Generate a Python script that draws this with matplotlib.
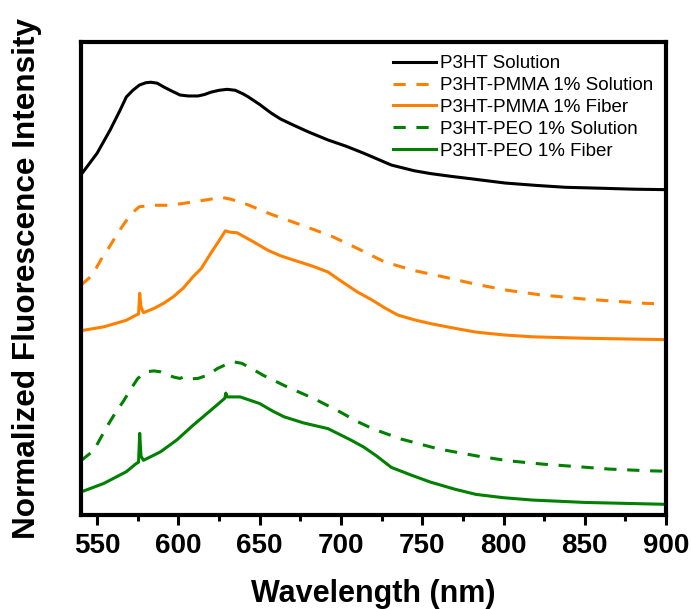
import matplotlib.pyplot as plt
from matplotlib.ticker import MultipleLocator

plt.rcParams['font.family'] = ['Liberation Sans', 'DejaVu Sans']

# P3HT Solution
wl_p3ht = [540, 550, 558, 564, 568, 572, 576, 580, 583, 587, 591, 595, 601, 606, 612, 616,
           620, 625, 630, 635, 640, 643, 650, 657, 663, 671, 680, 692, 703, 714, 731, 745,
           755, 768, 780, 801, 820, 838, 860, 880, 900]
int_p3ht = [0.719, 0.765, 0.814, 0.855, 0.884, 0.898, 0.909, 0.914, 0.915, 0.913, 0.905, 0.898,
            0.888, 0.886, 0.886, 0.889, 0.894, 0.898, 0.900, 0.898, 0.890, 0.884, 0.868, 0.850,
            0.837, 0.824, 0.810, 0.793, 0.780, 0.765, 0.740, 0.728, 0.722, 0.716, 0.711, 0.702,
            0.697, 0.693, 0.691, 0.689, 0.688]

# P3HT-PMMA 1% Solution
wl_pmma_sol = [540, 547, 554, 557, 562, 566, 571, 576, 585, 595, 609, 620, 626, 632, 642, 657,
               675, 694, 710, 727, 745, 764, 783, 803, 822, 849, 886, 900]
int_pmma_sol = [0.486, 0.507, 0.550, 0.564, 0.592, 0.613, 0.637, 0.652, 0.655, 0.655, 0.662,
                0.668, 0.672, 0.668, 0.657, 0.636, 0.614, 0.590, 0.564, 0.535, 0.517, 0.503,
                0.488, 0.475, 0.466, 0.457, 0.448, 0.446]

# P3HT-PMMA 1% Fiber
wl_pmma_fib = [540, 554, 568, 574, 575.5, 576.2, 577, 578.5, 585, 591, 597, 603, 609, 614, 620,
               625, 628.9, 632, 636, 645, 655, 663, 671, 682, 692, 700, 710, 719, 727, 735,
               745, 755, 770, 783, 800, 818, 850, 900]
int_pmma_fib = [0.390, 0.398, 0.412, 0.423, 0.425, 0.469, 0.440, 0.428, 0.437, 0.448, 0.462,
                0.480, 0.504, 0.521, 0.554, 0.580, 0.601, 0.598, 0.597, 0.580, 0.560, 0.548,
                0.539, 0.527, 0.514, 0.495, 0.472, 0.455, 0.438, 0.423, 0.413, 0.405, 0.395,
                0.387, 0.381, 0.377, 0.374, 0.371]

# P3HT-PEO 1% Solution
wl_peo_sol = [540, 548, 556, 561, 566, 571, 575, 580, 585, 589, 597, 601, 603, 606, 612, 618,
              624, 629, 634, 639, 645, 652, 667, 683, 698, 710, 720, 737, 760, 784, 803, 824,
              846, 865, 888, 900]
int_peo_sol = [0.115, 0.137, 0.187, 0.215, 0.240, 0.268, 0.289, 0.303, 0.305, 0.303, 0.292,
               0.289, 0.292, 0.288, 0.289, 0.296, 0.310, 0.318, 0.324, 0.321, 0.310, 0.296,
               0.271, 0.247, 0.221, 0.198, 0.182, 0.161, 0.140, 0.125, 0.115, 0.108, 0.1025,
               0.0975, 0.094, 0.093]

# P3HT-PEO 1% Fiber
wl_peo_fib = [540, 554, 568, 574, 575.5, 576.2, 577, 578.5, 589, 599, 609, 620, 628.5, 629.2,
              630, 638, 650, 658, 665, 677, 692, 706, 714, 722, 731, 743, 755, 770, 783, 800,
              818, 850, 900]
int_peo_fib = [0.049, 0.067, 0.092, 0.109, 0.112, 0.173, 0.125, 0.116, 0.134, 0.159, 0.190,
               0.222, 0.247, 0.258, 0.250, 0.250, 0.236, 0.220, 0.208, 0.195, 0.183, 0.159,
               0.144, 0.125, 0.101, 0.085, 0.070, 0.055, 0.044, 0.037, 0.032, 0.027, 0.023]

orange = '#ff8000'
green = '#008000'
dash = (4, 3.5)

fig = plt.figure(figsize=(6.91, 6.09), dpi=100)
ax = fig.add_axes([0.117, 0.154, 0.847, 0.777])

style = dict(lw=2.2, solid_joinstyle='round', dash_joinstyle='round')
ax.plot(wl_p3ht, int_p3ht, color='black', label='P3HT Solution', **style)
ax.plot(wl_pmma_sol, int_pmma_sol, color=orange, dashes=dash, label='P3HT-PMMA 1% Solution', **style)
ax.plot(wl_pmma_fib, int_pmma_fib, color=orange, label='P3HT-PMMA 1% Fiber', **style)
ax.plot(wl_peo_sol, int_peo_sol, color=green, dashes=dash, label='P3HT-PEO 1% Solution', **style)
ax.plot(wl_peo_fib, int_peo_fib, color=green, label='P3HT-PEO 1% Fiber', **style)

ax.set_xlim(540, 900)
ax.set_ylim(0, 1)
ax.xaxis.set_major_locator(MultipleLocator(50))
ax.xaxis.set_minor_locator(MultipleLocator(25))
ax.set_yticks([])
ax.tick_params(axis='x', which='major', direction='out', length=7, width=2.2, pad=6,
               labelsize=20)
ax.tick_params(axis='x', which='minor', direction='out', length=4, width=2.2)
for lbl in ax.get_xticklabels():
    lbl.set_fontweight('bold')
for sp in ax.spines.values():
    sp.set_linewidth(3)

ax.set_xlabel('Wavelength (nm)', fontsize=22, fontweight='bold', labelpad=14)
ax.set_ylabel('Normalized Fluorescence Intensity', fontsize=22.7, fontweight='bold', labelpad=28)

ax.legend(loc='upper right', frameon=False, fontsize=13.5, handlelength=2.3,
          handletextpad=0.2, labelspacing=0.25, borderaxespad=0.3)

plt.savefig('out.png', dpi=100)
